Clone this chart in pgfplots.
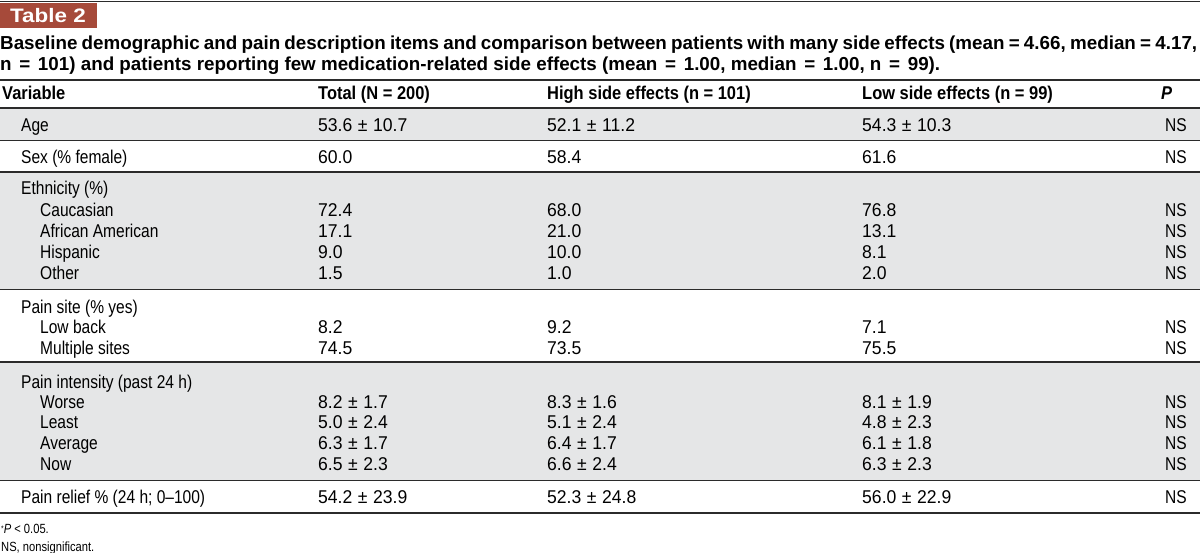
\documentclass[border=0pt]{standalone}
\usepackage{fontspec}
\setmainfont{Liberation Sans}
\newfontfamily\cond{Liberation Sans}[FakeStretch=0.84]
\newfontfamily\condn{Liberation Sans}[FakeStretch=0.95]
\newfontfamily\condb{Liberation Sans}[FakeStretch=0.89]
\newfontfamily\wide{Liberation Sans}[FakeStretch=1.15]
\usepackage{pgfplots}
\pgfplotsset{compat=1.18}
\definecolor{tabred}{HTML}{A64A3A}
\definecolor{rowgray}{HTML}{E5E6E7}
\definecolor{rule}{HTML}{2B2B2B}
\protected\def\pmx{\hspace{0.3em}±\hspace{0.3em}}
\protected\def\eq{\hspace{0.13em}=\hspace{0.13em}}
\protected\def\capA{\spaceskip=0.26em plus 0.2em minus 0.15em\makebox[1197pt][s]{Baseline demographic and pain description items and comparison between patients with many side effects (mean = 4.66, median = 4.17,}}
\protected\def\capB{n \eq{} 101) and patients reporting few medication-related side effects (mean \eq{} 1.00, median \eq{} 1.00, n \eq{} 99).}
\protected\def\hTot{Total (N = 200)}
\protected\def\hHigh{High side effects (n = 101)}
\protected\def\hLow{Low side effects (n = 99)}
\protected\def\vSex{Sex (\% female)}
\protected\def\vEth{Ethnicity (\%)}
\protected\def\vSite{Pain site (\% yes)}
\protected\def\vInt{Pain intensity (past 24 h)}
\protected\def\vRel{Pain relief \% (24 h\char59{} 0–100)}
\protected\def\fnA{\raisebox{0.35ex}{\fontsize{8}{8}\selectfont *}\itshape P\upshape\ < 0.05.}
\pgfplotsset{
  txt/.style={only marks, mark=none, nodes near coords, point meta=explicit symbolic,
    every node near coord/.append style={anchor=west, inner sep=0pt, text height=13.2pt, text depth=0pt,
      font=\cond\fontsize{18.5}{21}\selectfont, text=black}},
  num/.style={only marks, mark=none, nodes near coords, point meta=explicit symbolic,
    every node near coord/.append style={anchor=west, inner sep=0pt, text height=13.2pt, text depth=0pt,
      font=\condn\fontsize{18.5}{21}\selectfont, text=black}},
  hdr/.style={only marks, mark=none, nodes near coords, point meta=explicit symbolic,
    every node near coord/.append style={anchor=west, inner sep=0pt, text height=13.2pt, text depth=0pt,
      font=\condb\bfseries\fontsize{18.5}{21}\selectfont, text=black}},
  cap/.style={only marks, mark=none, nodes near coords, point meta=explicit symbolic,
    every node near coord/.append style={anchor=west, inner sep=0pt, text height=13.4pt, text depth=0pt,
      font=\bfseries\fontsize{18.8}{22}\selectfont, text=black}},
}
\begin{document}
\begin{tikzpicture}
\begin{axis}[width=1200pt, height=553pt, scale only axis, xmin=0, xmax=1200, ymin=0, ymax=553,
  y dir=reverse, axis lines=none, clip=false]
% backgrounds
\fill[rowgray] (axis cs:0,109) rectangle (axis cs:1200,140);
\fill[rowgray] (axis cs:0,172) rectangle (axis cs:1200,289);
\fill[rowgray] (axis cs:0,362) rectangle (axis cs:1200,480);
\fill[tabred] (axis cs:0,3.5) rectangle (axis cs:97,28);
% rules
\draw[rule, line width=1.2pt] (axis cs:0,1.2) -- (axis cs:1200,1.2);
\draw[rule, line width=1.4pt] (axis cs:0,80) -- (axis cs:1200,80);
\draw[rule, line width=1.4pt] (axis cs:0,108) -- (axis cs:1200,108);
\draw[rule, line width=1.2pt] (axis cs:0,140.5) -- (axis cs:1200,140.5);
\draw[rule, line width=1.2pt] (axis cs:0,172) -- (axis cs:1200,172);
\draw[rule, line width=1.2pt] (axis cs:0,289.5) -- (axis cs:1200,289.5);
\draw[rule, line width=1.2pt] (axis cs:0,362) -- (axis cs:1200,362);
\draw[rule, line width=1.2pt] (axis cs:0,480.5) -- (axis cs:1200,480.5);
\draw[rule, line width=1.4pt] (axis cs:0,513) -- (axis cs:1200,513);
% table label
\addplot[only marks, mark=none, nodes near coords, point meta=explicit symbolic,
  every node near coord/.append style={anchor=west, inner sep=0pt, text height=14pt, text depth=0pt,
  font=\wide\bfseries\fontsize{19.5}{21}\selectfont, text=white}] coordinates {(10,16) [Table 2]};
% caption
\addplot[cap] coordinates {(0,43) [\capA] (0,64) [\capB]};
% header
\addplot[hdr] coordinates {
 (2,93) [Variable] (318,93) [\hTot] (547,93) [\hHigh] (862,93) [\hLow] (1161,93) [\itshape P]
};
% variable names
\addplot[txt] coordinates {
 (21,125) [Age] (21,157) [\vSex] (21,188) [\vEth]
 (40,210) [Caucasian] (40,231) [African American] (40,252) [Hispanic] (40,273) [Other]
 (21,307) [\vSite] (40,327) [Low back] (40,348) [Multiple sites]
 (21,382) [\vInt] (40,402) [Worse] (40,422) [Least] (40,443) [Average] (40,464) [Now]
 (21,497) [\vRel]
};
% Total
\addplot[num] coordinates {
 (318,125) [53.6\pmx 10.7] (318,157) [60.0] (318,210) [72.4] (318,231) [17.1] (318,252) [9.0] (318,273) [1.5]
 (318,327) [8.2] (318,348) [74.5] (318,402) [8.2\pmx 1.7] (318,422) [5.0\pmx 2.4] (318,443) [6.3\pmx 1.7]
 (318,464) [6.5\pmx 2.3] (318,497) [54.2\pmx 23.9]
};
% High
\addplot[num] coordinates {
 (547,125) [52.1\pmx 11.2] (547,157) [58.4] (547,210) [68.0] (547,231) [21.0] (547,252) [10.0] (547,273) [1.0]
 (547,327) [9.2] (547,348) [73.5] (547,402) [8.3\pmx 1.6] (547,422) [5.1\pmx 2.4] (547,443) [6.4\pmx 1.7]
 (547,464) [6.6\pmx 2.4] (547,497) [52.3\pmx 24.8]
};
% Low
\addplot[num] coordinates {
 (862,125) [54.3\pmx 10.3] (862,157) [61.6] (862,210) [76.8] (862,231) [13.1] (862,252) [8.1] (862,273) [2.0]
 (862,327) [7.1] (862,348) [75.5] (862,402) [8.1\pmx 1.9] (862,422) [4.8\pmx 2.3] (862,443) [6.1\pmx 1.8]
 (862,464) [6.3\pmx 2.3] (862,497) [56.0\pmx 22.9]
};
% P
\addplot[txt] coordinates {
 (1165,125) [NS] (1165,157) [NS] (1165,210) [NS] (1165,231) [NS] (1165,252) [NS] (1165,273) [NS]
 (1165,327) [NS] (1165,348) [NS] (1165,402) [NS] (1165,422) [NS] (1165,443) [NS] (1165,464) [NS] (1165,497) [NS]
};
% footnotes
\addplot[only marks, mark=none, nodes near coords, point meta=explicit symbolic,
  every node near coord/.append style={anchor=west, inner sep=0pt, text height=9.6pt, text depth=0pt,
  font=\cond\fontsize{13.3}{16}\selectfont, text=black}] coordinates {
 (1,529) [\fnA] (1,547) [NS, nonsignificant.]
};
\end{axis}
\pgfresetboundingbox
\useasboundingbox (0,0) rectangle (1200pt,553pt);
\end{tikzpicture}
\end{document}
